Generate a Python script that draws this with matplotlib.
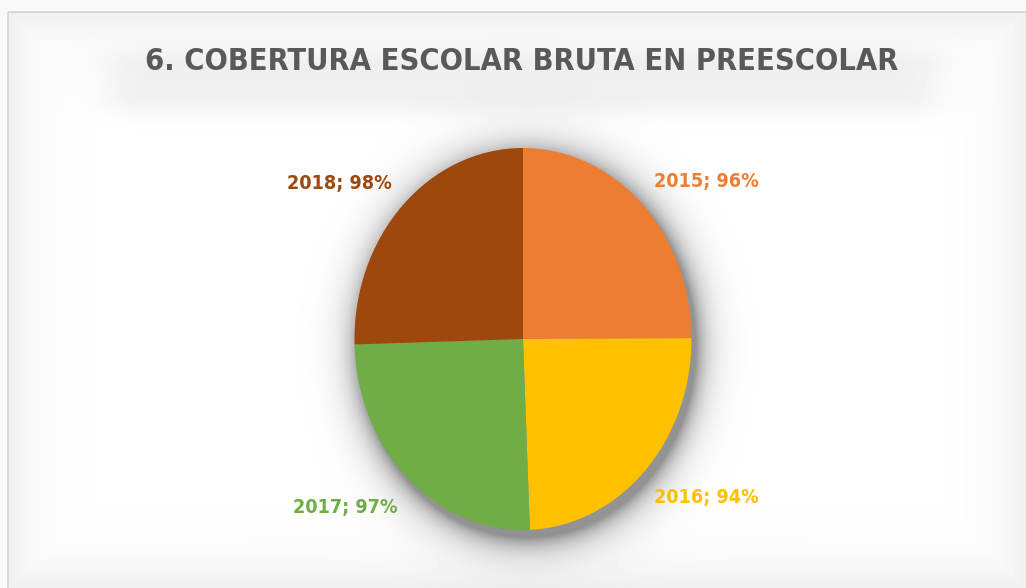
import numpy as np
import matplotlib

matplotlib.use("Agg")
import matplotlib.pyplot as plt
from matplotlib.patches import Rectangle

years = ["2015", "2016", "2017", "2018"]
coverage = [96, 94, 97, 98]
colors = ["#ED7D31", "#FFC000", "#70AD47", "#9E480E"]
title = "6. COBERTURA ESCOLAR BRUTA EN PREESCOLAR"

W, H = 1026, 588
cx, cy = 523, 339          # pie centre in pixels (from top)
rx, ry = 168.5, 191.0      # pie radii in pixels
# label anchor points (pixels, from top), one per slice
label_px = [(706, 182), (706, 497), (345, 507), (339, 184)]

FONT = dict(family="DejaVu Sans", fontstretch="condensed", fontweight="bold")

fig = plt.figure(figsize=(W / 100, H / 100), dpi=100)

# background: white card with soft gray edges, title haze and pie shadow
yy, xx = np.mgrid[0:H, 0:W].astype(float)
d_edge = np.minimum.reduce([xx - 8, yy - 12, W - 1 - xx, H - 1 - yy])
bg = 1.0 - 0.06 * np.exp(-np.clip(d_edge, 0, None) / 30)
bg[(xx < 8) | (yy < 12)] = 0.975

dx = np.clip(np.maximum(150 - xx, xx - 895), 0, None)
dy = np.clip(np.maximum(68 - yy, yy - 95), 0, None)
bg -= 0.055 * np.exp(-((dx / 50) ** 2 + (dy / 20) ** 2))

r = np.sqrt(((xx - cx - 4) / rx) ** 2 + ((yy - cy - 7) / ry) ** 2)
d_pie = np.clip((r - 1) * 180, 0, None)
bg -= 0.42 * np.exp(-d_pie / 14)
bg = np.clip(bg, 0, 1)

ax_bg = fig.add_axes([0, 0, 1, 1])
ax_bg.imshow(bg, cmap="gray", vmin=0, vmax=1, extent=(0, W, H, 0), interpolation="bilinear")
ax_bg.add_patch(Rectangle((8, 12), W, H, fill=False, edgecolor="#d4d4d4", linewidth=1.2))
ax_bg.set_xlim(0, W)
ax_bg.set_ylim(H, 0)
ax_bg.set_axis_off()

# pie axes: data unit 1 = pie radius, stretched to an ellipse
ax = fig.add_axes([0, 0, 1, 1])
ax.patch.set_alpha(0)
ax.pie(coverage, colors=colors, startangle=90, counterclock=False, radius=1,
       wedgeprops=dict(linewidth=0))
ax.set_aspect("auto")
ax.set_xlim(-cx / rx, (W - cx) / rx)
ax.set_ylim(-(H - cy) / ry, cy / ry)
ax.set_axis_off()

labels = []
for year, val, col, (px, py) in zip(years, coverage, colors, label_px):
    lab = ax.text((px - cx) / rx, (cy - py) / ry, f"{year}; {val}%", color=col,
                  fontsize=17, ha="center", va="center", **FONT)
    labels.append(lab)

t = fig.text(522 / W, 1 - 62 / H, title, color="#595959", fontsize=30,
             ha="center", va="center", **FONT)
fig.canvas.draw()
t.set_fontsize(30 * 752 / t.get_window_extent().width)
for lab in labels:
    lab.set_fontsize(17 * 105 / lab.get_window_extent().width)

fig.savefig("out.png", dpi=100)
